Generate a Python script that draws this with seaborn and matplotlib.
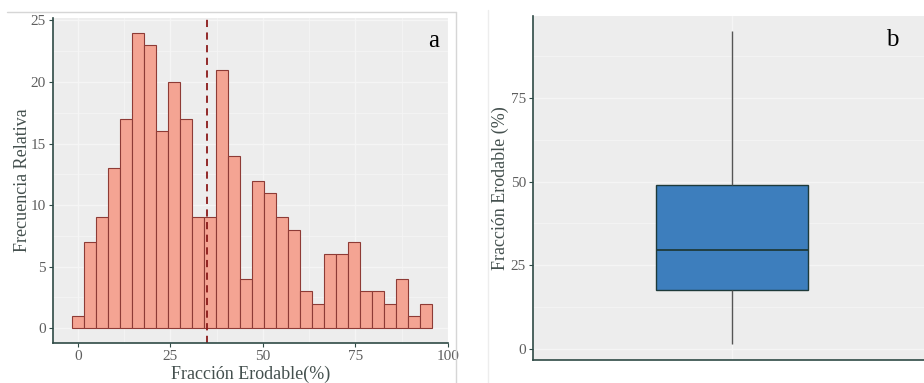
import numpy as np
import pandas as pd
import matplotlib
matplotlib.use("Agg")
import matplotlib.pyplot as plt
import seaborn as sns
from matplotlib.lines import Line2D

# ---- data ----
hist_counts = [1, 7, 9, 13, 17, 24, 23, 16, 20, 17, 9, 9, 21, 14, 4,
               12, 11, 9, 8, 3, 2, 6, 6, 7, 3, 3, 2, 4, 1, 2]
bin_start = -1.45
bin_width = 3.235
mean_value = 35.0
hist_xticks = [0, 25, 50, 75, 100]
hist_yticks = [0, 5, 10, 15, 20, 25]

box_values = [1.5, 17.6, 29.6, 49.0, 95.0]  # min, q1, median, q3, max
box_yticks = [0, 25, 50, 75]

xlabel_a = "Fracción Erodable(%)"
ylabel_a = "Frecuencia Relativa"
ylabel_b = "Fracción Erodable (%)"

# ---- style ----
sns.set_theme(style="white")
plt.rcParams['font.family'] = ['Liberation Serif', 'DejaVu Serif']

panel_bg = "#EDEDED"
grid_c = "#F5F5F5"
spine_c = "#2F4A46"
tick_c = "#5E5E5E"
title_c = "#44504E"

fig = plt.figure(figsize=(9.24, 3.83), dpi=100)

# decorative frames of original images
fig.add_artist(Line2D([7/924, 456/924], [1-12/383, 1-12/383], color="#D6D6D6", lw=1))
fig.add_artist(Line2D([456/924, 456/924], [0, 1-12/383], color="#D6D6D6", lw=1))
fig.add_artist(Line2D([488/924, 488/924], [0, 1-10/383], color="#EDEDED", lw=1))

# ---- panel a ----
ax1 = fig.add_axes([53/924, 1-343/383, (448-53)/924, (343-18)/383])
n_bins = len(hist_counts)
bin_end = bin_start + bin_width * n_bins
centers = bin_start + bin_width * (np.arange(n_bins) + 0.5)
df_h = pd.DataFrame({"x": centers, "w": hist_counts})
sns.histplot(data=df_h, x="x", weights="w", bins=n_bins,
             binrange=(bin_start, bin_end), ax=ax1,
             color="#F4A493", edgecolor="#8E3B36", linewidth=0.8, alpha=1.0)
ax1.axvline(mean_value, color="#8B1A1A", ls=(0, (4, 3)), lw=1.3)
ax1.set_xlim(-6.7, 100)
ax1.set_ylim(-1.2, 25.2)
ax1.set_facecolor(panel_bg)
ax1.set_xticks(hist_xticks)
ax1.set_xticklabels(["0", "25", "50", "75", "100"])
ax1.set_yticks(hist_yticks)
ax1.set_xticks([12.5, 37.5, 62.5, 87.5], minor=True)
ax1.set_yticks([2.5, 7.5, 12.5, 17.5, 22.5], minor=True)
ax1.grid(True, which="major", color=grid_c, lw=1.0)
ax1.grid(True, which="minor", color=grid_c, lw=0.6)
ax1.set_axisbelow(True)
ax1.set_xlabel(xlabel_a, fontsize=13, color=title_c, labelpad=2)
ax1.set_ylabel(ylabel_a, fontsize=13, color=title_c, labelpad=0)
ax1.text(0.963, 0.93, "a", transform=ax1.transAxes, fontsize=18,
         ha="center", va="center", color="black")

# ---- panel b ----
ax2 = fig.add_axes([533/924, 1-360/383, (931-533)/924, (360-16)/383])
df_b = pd.DataFrame({"g": ["x"] * len(box_values), "v": box_values})
sns.boxplot(data=df_b, x="g", y="v", ax=ax2, width=0.383,
            color="#3D7EBD", saturation=1,
            boxprops=dict(facecolor="#3D7EBD", edgecolor="#1E3A3A", linewidth=1.0),
            medianprops=dict(color="#1E3A3A", linewidth=1.3),
            whiskerprops=dict(color="#555555", linewidth=1.0),
            capprops=dict(linewidth=0), showcaps=False, linecolor="#1E3A3A")
ax2.set_xlim(-0.5, 0.5)
ax2.set_ylim(-3.3, 99.5)
ax2.set_facecolor(panel_bg)
ax2.set_yticks(box_yticks)
ax2.set_yticks([12.5, 37.5, 62.5, 87.5], minor=True)
ax2.set_xticks([0])
ax2.set_xticklabels([""])
ax2.grid(True, which="major", color=grid_c, lw=1.0)
ax2.grid(True, which="minor", color=grid_c, lw=0.6)
ax2.set_axisbelow(True)
ax2.set_xlabel("")
ax2.set_ylabel(ylabel_b, fontsize=13, color=title_c, labelpad=1.5)
ax2.text(0.904, 0.93, "b", transform=ax2.transAxes, fontsize=18,
         ha="center", va="center", color="black")

for ax in (ax1, ax2):
    for s in ("top", "right"):
        ax.spines[s].set_visible(False)
    for s in ("left", "bottom"):
        ax.spines[s].set_color(spine_c)
        ax.spines[s].set_linewidth(1.2)
    ax.tick_params(axis="both", which="major", length=3, width=0.8,
                   color=spine_c, labelcolor=tick_c, labelsize=11, pad=2,
                   bottom=True, left=True)
    ax.tick_params(which="minor", length=0)
ax2.tick_params(axis="x", length=0)

fig.savefig("out.png", dpi=100, facecolor="white")
